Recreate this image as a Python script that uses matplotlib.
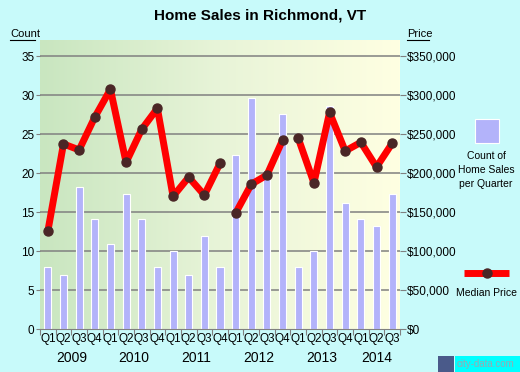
import numpy as np
import matplotlib.pyplot as plt
from matplotlib.colors import LinearSegmentedColormap
from matplotlib.patches import Rectangle
from matplotlib.lines import Line2D

quarters = ["Q1", "Q2", "Q3", "Q4"] * 5 + ["Q1", "Q2", "Q3"]
years = ["2009", "2010", "2011", "2012", "2013", "2014"]
counts = [8, 7, 18.3, 14.2, 11, 17.3, 14.2, 8, 10, 7, 12, 8,
          22.4, 29.6, 20.3, 27.6, 8, 10, 28.6, 16.2, 14.2, 13.2, 17.3]
prices = [125600, 237600, 230000, 272000, 307700, 214000, 256400, 283300,
          170500, 195000, 172000, 212800,
          149000, 186000, 197800, 242700,
          244900, 187600, 278000, 228600, 239700, 208000, 238500]
segments = [(0, 12), (12, 16), (16, 23)]

W, H = 520, 372
fig = plt.figure(figsize=(W / 100, H / 100), dpi=100, facecolor='#c8fafa')
plt.rcParams['font.family'] = ['Liberation Sans', 'DejaVu Sans']

def fx(px):
    return px / W

def fy(py):
    return 1 - py / H

ax = fig.add_axes([fx(40), fy(329.3), fx(360), (329.3 - 40) / H])
ymax = (329.3 - 40) / 7.8
n = len(counts)
x = np.arange(n)

# background gradient
cmap = LinearSegmentedColormap.from_list('bg', ['#c9e6c0', '#e8f4d8', '#ffffe2'])
ax.imshow(np.linspace(0, 1, 200).reshape(1, -1), cmap=cmap, aspect='auto',
          extent=[-0.5, n - 0.5, 0, ymax], zorder=0)

ax.set_xlim(-0.5, n - 0.5)
ax.set_ylim(0, ymax)
for v in range(5, 36, 5):
    ax.axhline(v, color='#808080', lw=1.1, zorder=1)

ax.bar(x, counts, width=0.45, color='#b3b3fa', edgecolor='white', lw=0.8, zorder=2)

ax2 = ax.twinx()
ax2.set_ylim(0, ymax * 10000)
for a, b in segments:
    ax2.plot(x[a:b], prices[a:b], color='#ff0000', lw=5, zorder=3,
             marker='o', ms=6.5, mfc='#4a2626', mec='#4a2626', solid_capstyle='butt')

for s in ['top', 'left', 'right']:
    ax.spines[s].set_visible(False)
    ax2.spines[s].set_visible(False)
ax.spines['bottom'].set_color('#808080')
ax2.spines['bottom'].set_visible(False)

ax.set_yticks(range(0, 36, 5))
ax.tick_params(axis='y', length=3, color='#808080', labelsize=8.5, pad=1)
ax2.set_yticks(range(0, 350001, 50000))
ax2.set_yticklabels(['$' + format(v, ',') for v in range(0, 350001, 50000)])
ax2.tick_params(axis='y', length=4, color='#808080', labelsize=8.5, pad=1)

ax.set_xticks(np.arange(-0.5, n, 1))
ax.set_xticklabels([])
ax.set_xticks(x, minor=True)
ax.set_xticklabels(quarters, minor=True, fontsize=8.5)
ax.tick_params(axis='x', which='major', length=4, color='#808080')
ax.tick_params(axis='x', which='minor', length=0, pad=3)

year_pos = [1.5, 5.5, 9.5, 13.5, 17.5, 21]
for yr, p in zip(years, year_pos):
    ax.text(p, -0.098, yr, transform=ax.get_xaxis_transform(), ha='center',
            va='center', fontsize=10)

fig.text(fx(260), fy(15), 'Home Sales in Richmond, VT', ha='center', va='center',
         fontsize=11, fontweight='bold')
fig.text(fx(10), fy(34), 'Count', ha='left', va='center', fontsize=8)
fig.add_artist(Line2D([fx(10), fx(35)], [fy(40), fy(40)], color='black', lw=0.8))
fig.text(fx(407), fy(34), 'Price', ha='left', va='center', fontsize=8)
fig.add_artist(Line2D([fx(407), fx(429)], [fy(40), fy(40)], color='black', lw=0.8))

# legend
fig.add_artist(Rectangle((fx(474.5), fy(143)), fx(24), 24 / H, facecolor='#b3b3fa',
                         edgecolor='white', lw=0.8))
fig.text(fx(486), fy(170), 'Count of\nHome Sales\nper Quarter', ha='center',
         va='center', fontsize=7.5, linespacing=1.5)
fig.add_artist(Line2D([fx(464), fx(509)], [fy(272.7), fy(272.7)], color='#ff0000',
                      lw=5, solid_capstyle='butt'))
fig.add_artist(Line2D([fx(486.5)], [fy(272.7)], marker='o', ms=6.5, color='#4a2626'))
fig.text(fx(486), fy(293), 'Median Price', ha='center', va='center', fontsize=7.5)

# watermark
fig.add_artist(Rectangle((fx(455), 0), fx(65), 16 / H, facecolor='#00ffff', lw=0))
fig.add_artist(Rectangle((fx(438), 0), fx(16), 16 / H, facecolor='#4a5a8a', lw=0))
fig.text(fx(457), fy(364), 'city-data.com', ha='left', va='center', fontsize=7,
         color='#9aa8b0')

fig.savefig('out.png', dpi=100, facecolor=fig.get_facecolor())
